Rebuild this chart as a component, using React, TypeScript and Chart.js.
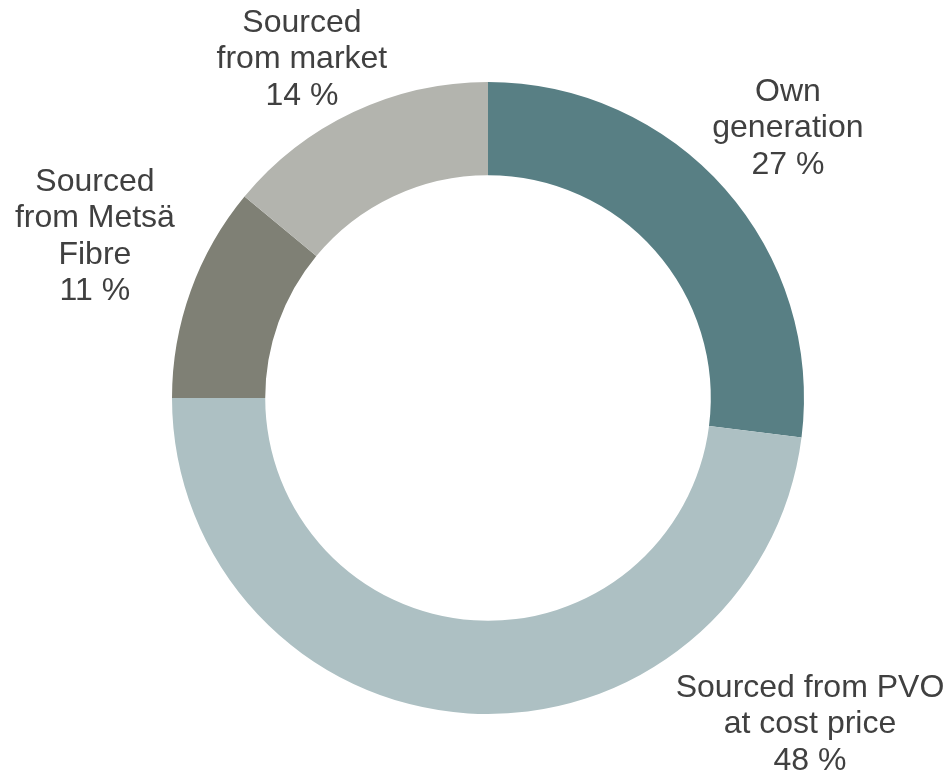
import React, { useEffect, useRef } from "react";
import { Chart, registerables } from "chart.js";

Chart.register(...registerables);

const categories: string[][] = [
  ["Own", "generation"],
  ["Sourced from PVO", "at cost price"],
  ["Sourced", "from Metsä", "Fibre"],
  ["Sourced", "from market"],
];
const shares: number[] = [27, 48, 11, 14];
const sliceColors: string[] = ["#587f84", "#adc0c3", "#7f8075", "#b3b4ae"];

// label block centre, relative to chart centre, in units of outer radius
const labelOffsets: [number, number][] = [
  [0.949, -0.861],
  [1.019, 1.024],
  [-1.244, -0.519],
  [-0.589, -1.079],
];

const labelPlugin = {
  id: "outerLabels",
  afterDatasetsDraw(chart: any) {
    const meta = chart.getDatasetMeta(0);
    const ctx = chart.ctx;
    const fontSize = 32;
    const lineH = 36.5;
    const capH = fontSize * 0.716;
    ctx.save();
    ctx.font = `${fontSize}px "Liberation Sans", Arial, sans-serif`;
    ctx.fillStyle = "#404040";
    ctx.textAlign = "center";
    ctx.textBaseline = "alphabetic";
    meta.data.forEach((arc: any, i: number) => {
      const { x, y, outerRadius } = arc.getProps(["x", "y", "outerRadius"], true);
      const lines = [...categories[i], `${shares[i]} %`];
      const cx = x + labelOffsets[i][0] * outerRadius;
      const cy = y + labelOffsets[i][1] * outerRadius;
      const top = cy - ((lines.length - 1) * lineH) / 2;
      lines.forEach((ln, k) => {
        ctx.fillText(ln, cx, top + k * lineH + capH / 2);
      });
    });
    ctx.restore();
  },
};

export default function App() {
  const ref = useRef<HTMLCanvasElement | null>(null);
  useEffect(() => {
    if (!ref.current) return;
    const chart = new Chart(ref.current, {
      type: "doughnut",
      data: {
        labels: categories.map((c) => c.join(" ")),
        datasets: [
          {
            data: shares,
            backgroundColor: sliceColors,
            borderWidth: 0,
          },
        ],
      },
      options: {
        animation: false,
        responsive: true,
        maintainAspectRatio: false,
        cutout: "70.5%",
        rotation: 0,
        layout: { padding: { top: 82, bottom: 59, left: 172, right: 145 } },
        plugins: {
          legend: { display: false },
          tooltip: { enabled: false },
        },
      },
      plugins: [labelPlugin],
    });
    return () => chart.destroy();
  }, []);
  return (
    <div style={{ position: "fixed", left: 0, top: 0, width: 949, height: 773, background: "#fff" }}>
      <canvas ref={ref} />
    </div>
  );
}
